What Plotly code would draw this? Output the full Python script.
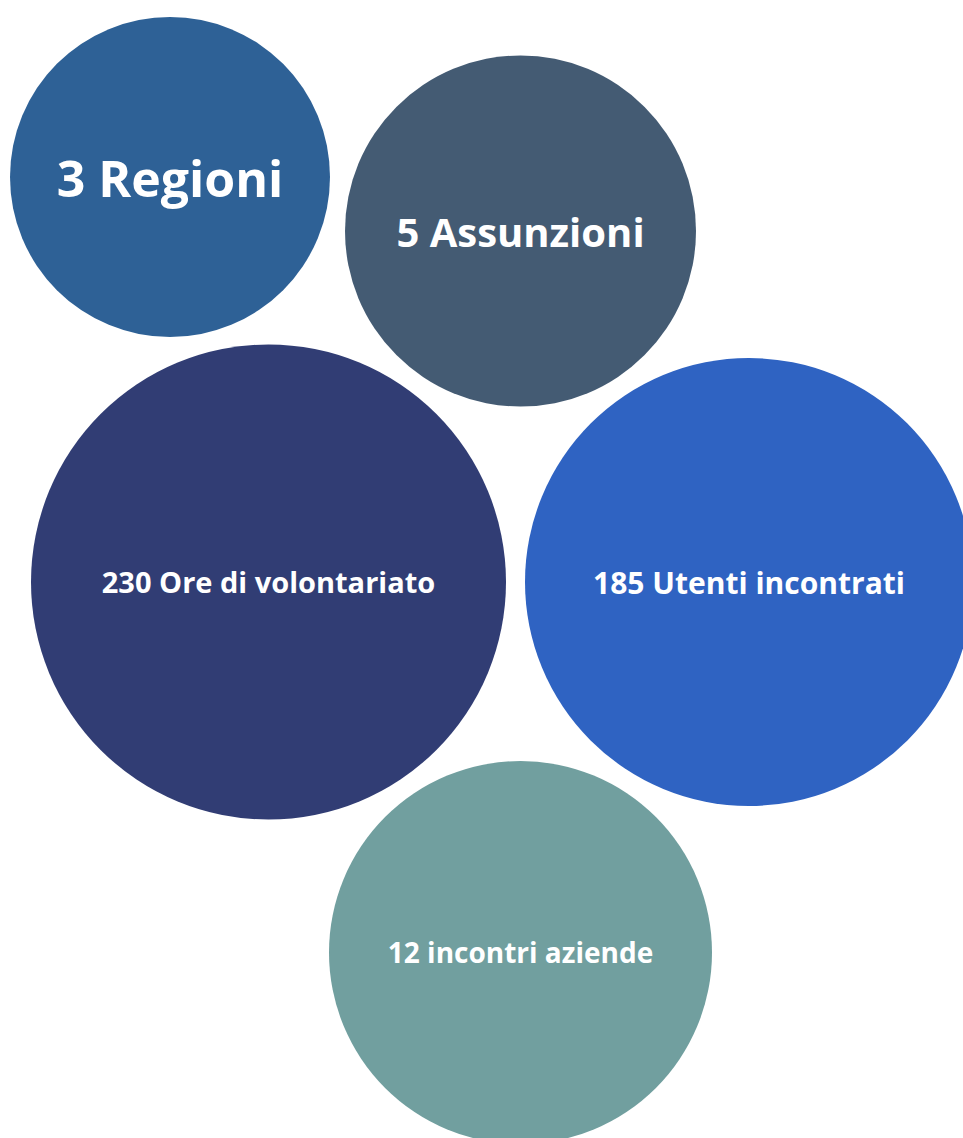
import plotly.graph_objects as go

# Data
values = [3, 5, 230, 185, 12]
labels = ["Regioni", "Assunzioni", "Ore di volontariato", "Utenti incontrati", "incontri aziende"]

# Layout of the bubbles (pixel-space placement)
centers_x = [170, 520.5, 268.5, 749, 520.5]
centers_y = [177, 231, 582, 582, 952.5]
diameters = [320, 351, 475, 448, 383]
colors = ["#2E6196", "#445B73", "#313D74", "#2F63C2", "#719F9F"]
font_sizes = [50, 40, 29, 30, 28]

texts = [f"{v} {l}" for v, l in zip(values, labels)]

fig = go.Figure()
fig.add_trace(go.Scatter(
    x=centers_x,
    y=centers_y,
    mode="markers",
    text=texts,
    marker=dict(size=diameters, sizemode="diameter", color=colors, opacity=1,
                line=dict(width=0)),
    hoverinfo="text",
))
# labels: nudge down so the cap-height middle sits on the bubble centre
fig.add_trace(go.Scatter(
    x=centers_x,
    y=[cy + 0.14 * fs for cy, fs in zip(centers_y, font_sizes)],
    mode="text",
    text=texts,
    textposition="middle center",
    textfont=dict(family="Open Sans", size=font_sizes, color="white", weight="bold"),
    hoverinfo="skip",
))

fig.update_layout(
    width=963, height=1138,
    margin=dict(l=0, r=0, t=0, b=0),
    paper_bgcolor="white", plot_bgcolor="white",
    showlegend=False,
    xaxis=dict(range=[0, 963], visible=False, fixedrange=True),
    yaxis=dict(range=[1138, 0], visible=False, fixedrange=True),
)

fig.write_html(
    "out.html",
    config={"displayModeBar": False},
    post_script="document.body.style.margin='0';document.body.style.overflow='hidden';",
)
